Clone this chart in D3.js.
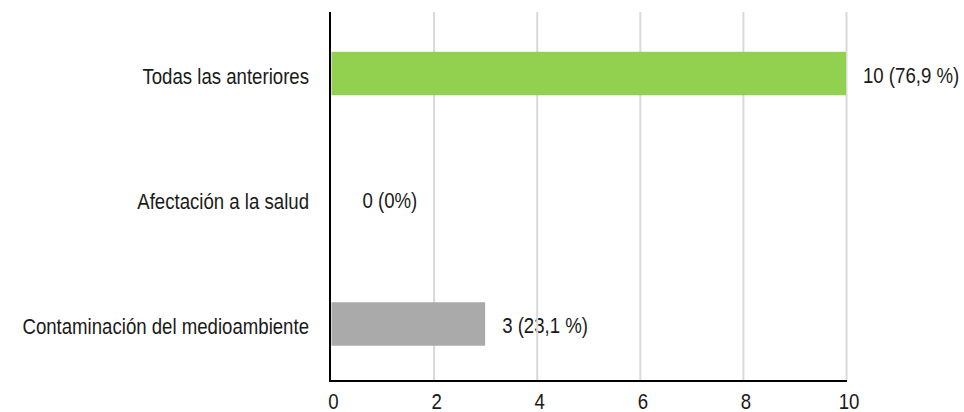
<!DOCTYPE html>
<html>
<head>
<meta charset="utf-8">
<script src="https://cdn.jsdelivr.net/npm/d3@7"></script>
<style>
  html, body { margin: 0; padding: 0; background: #ffffff; }
  svg { display: block; }
  text { font-family: "Liberation Sans", Arial, sans-serif; fill: #1a1a1a; }
</style>
</head>
<body>
<svg id="chart" width="964" height="412"></svg>
<script>
// Survey answers, top to bottom
const categories = ["Todas las anteriores", "Afectación a la salud", "Contaminación del medioambiente"];
const counts = [10, 0, 3];
const valueLabels = ["10 (76,9 %)", "0 (0%)", "3 (23,1 %)"];
const barColors = ["#92d050", "#92d050", "#aaaaaa"];
const xTicks = [0, 2, 4, 6, 8, 10];

const svg = d3.select("#chart");
const plot = { left: 330.5, right: 846, top: 12, bottom: 381 };

const x = d3.scaleLinear().domain([0, 10]).range([plot.left, plot.right]);
const y = d3.scaleBand()
  .domain(categories)
  .range([10.9, 386.6])
  .paddingInner(0.653)
  .paddingOuter(0.3265);

const FS = 23;      // font size
const SX = 0.81;    // narrow text

function narrowText(sel, px, py, anchor, str) {
  sel.append("text")
    .attr("transform", `translate(${px},${py}) scale(${SX},1)`)
    .attr("text-anchor", anchor)
    .style("font-size", FS + "px")
    .text(str);
}

// category labels
categories.forEach((c) => {
  narrowText(svg, 309, y(c) + y.bandwidth() / 2 + 10, "end", c);
});

// value labels (a zero bar still reserves a small gap)
categories.forEach((c, i) => {
  const end = Math.max(x(counts[i]), x(0) + 15);
  narrowText(svg, end + 17, y(c) + y.bandwidth() / 2 + 9, "start", valueLabels[i]);
});

// vertical gridlines
svg.append("g")
  .selectAll("line")
  .data(xTicks.filter(t => t > 0))
  .join("line")
  .attr("x1", d => x(d) + 0.5)
  .attr("x2", d => x(d) + 0.5)
  .attr("y1", plot.top)
  .attr("y2", plot.bottom)
  .attr("stroke", "#d9d9d9")
  .attr("stroke-width", 2);

// bars
svg.append("g")
  .selectAll("rect")
  .data(categories)
  .join("rect")
  .attr("x", x(0) + 1)
  .attr("y", d => y(d))
  .attr("width", (d, i) => Math.max(0, x(counts[i]) - x(0) - 1))
  .attr("height", y.bandwidth())
  .attr("fill", (d, i) => barColors[i]);

// axis lines
svg.append("line")
  .attr("x1", plot.left - 0.5).attr("x2", plot.left - 0.5)
  .attr("y1", plot.top).attr("y2", plot.bottom + 1)
  .attr("stroke", "#000").attr("stroke-width", 2);
svg.append("line")
  .attr("x1", plot.left - 1.5).attr("x2", plot.right + 1)
  .attr("y1", plot.bottom).attr("y2", plot.bottom)
  .attr("stroke", "#000").attr("stroke-width", 2);

// tick labels
xTicks.forEach(t => {
  narrowText(svg, x(t) + 3, 409, "middle", String(t));
});
</script>
</body>
</html>
